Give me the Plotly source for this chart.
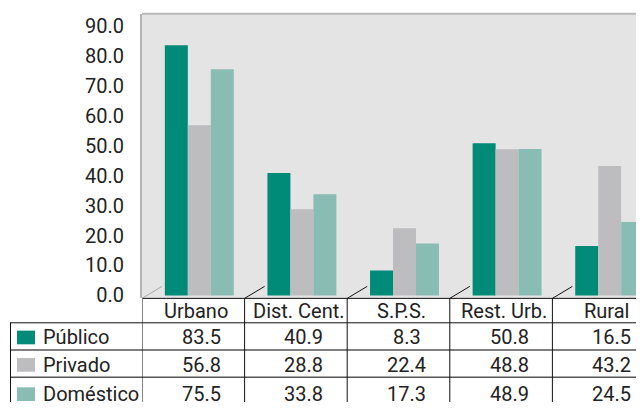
import plotly.graph_objects as go

categories = ["Urbano", "Dist. Cent.", "S.P.S.", "Rest. Urb.", "Rural"]
publico = [83.5, 40.9, 8.3, 50.8, 16.5]
privado = [56.8, 28.8, 22.4, 48.8, 43.2]
domestico = [75.5, 33.8, 17.3, 48.9, 24.5]
series_names = ["Público", "Privado", "Doméstico"]
y_ticks = [0, 10, 20, 30, 40, 50, 60, 70, 80, 90]

colors = ["#008a78", "#bdbdbf", "#89bcb2"]
series = [publico, privado, domestico]

# the page has an 8px body margin, so the figure is drawn 8px smaller
OFF = 8
W_PX, H_PX = 644 - OFF, 411 - OFF
CAT_W = 102.6          # pixels per category
LEFT = 142             # left edge of the plot area (window pixels)
S = 3.065              # pixels per unit on the value axis


def py(p):
    # window pixel row -> paper y
    return 1 - (p - OFF) / H_PX


def px_(p):
    return (p - OFF) / W_PX


span = (644 - LEFT) / CAT_W
font = dict(family="Roboto", size=20, color="#222")

fig = go.Figure()
for name, vals, col in zip(series_names, series, colors):
    fig.add_trace(go.Bar(x=categories, y=vals, name=name, marker_color=col,
                         marker_line_width=0, xaxis="x", yaxis="y"))

fig.update_layout(
    width=W_PX, height=H_PX,
    margin=dict(l=0, r=0, t=0, b=0),
    paper_bgcolor="white",
    plot_bgcolor="#e4e4e4",
    showlegend=False,
    barmode="group", bargap=0.328, bargroupgap=0,
    font=font,
    # bars sit a little behind the front edge
    xaxis=dict(domain=[px_(LEFT), 1], range=[-0.5 - 6 / CAT_W, -0.5 - 6 / CAT_W + span],
               showticklabels=False, showgrid=False, zeroline=False, showline=False,
               ticks=""),
    xaxis2=dict(overlaying="x", range=[-0.5, -0.5 + span], showticklabels=False,
                showgrid=False, zeroline=False, showline=False, ticks=""),
    yaxis=dict(domain=[py(305), py(14)], range=[-3 / S, (302 - 14) / S],
               tickvals=y_ticks, tickformat=".1f", ticks="", showgrid=False,
               zeroline=False, showline=True, linecolor="#b4b4b4", linewidth=2,
               ticklabelstandoff=12, tickfont=font),
    yaxis2=dict(overlaying="y", range=[-12 / S, (293 - 14) / S], tickvals=y_ticks[1:],
                showticklabels=False, ticks="", showgrid=True, gridcolor="#f6f6f6",
                gridwidth=1.5, zeroline=False, showline=False),
    yaxis3=dict(overlaying="y", range=[0, (305 - 14) / S], tickvals=y_ticks,
                showticklabels=False, ticks="outside", ticklen=6, tickwidth=1.5,
                tickcolor="#333", showgrid=False, zeroline=False, showline=False),
)

shapes = []
# top border of the wall
shapes.append(dict(type="line", xref="paper", yref="paper", x0=px_(LEFT), x1=1,
                   y0=py(14), y1=py(14), line=dict(color="#b8b8b8", width=2)))
# floor front edge / table top
shapes.append(dict(type="line", xref="paper", yref="paper", x0=px_(LEFT), x1=1,
                   y0=py(305), y1=py(305), line=dict(color="#111", width=1)))
shapes.append(dict(type="line", xref="paper", yref="paper", x0=px_(10), x1=1,
                   y0=py(330), y1=py(330), line=dict(color="#111", width=1)))
for yy in (357.7, 385.7):
    shapes.append(dict(type="line", xref="paper", yref="paper", x0=px_(10), x1=1,
                       y0=py(yy), y1=py(yy), line=dict(color="#555", width=1.5)))
shapes.append(dict(type="line", xref="paper", yref="paper", x0=px_(10.5), x1=px_(10.5),
                   y0=py(330), y1=0, line=dict(color="#111", width=1)))
for k in range(len(categories)):
    b = k - 0.5
    shapes.append(dict(type="line", xref="x2", yref="paper", x0=b, x1=b,
                       y0=py(305), y1=0, line=dict(color="#111", width=1)))
    shapes.append(dict(type="line", xref="x2", xsizemode="pixel", xanchor=b,
                       x0=0, x1=20, yref="paper", ysizemode="pixel", yanchor=py(305),
                       y0=0, y1=12,
                       line=dict(color="#aaa" if k == 0 else "#111", width=1)))

annotations = []
for i, c in enumerate(categories):
    annotations.append(dict(x=i, xref="x2", y=py(318), yref="paper", text=c,
                            showarrow=False, xanchor="center", yanchor="middle",
                            xshift=3, font=font))
row_y = [345, 373, 403]
for r, (name, vals, col) in enumerate(zip(series_names, series, colors)):
    yc = row_y[r]
    shapes.append(dict(type="rect", xref="paper", yref="paper", x0=px_(17), x1=px_(35),
                       y0=py(yc + 7), y1=py(yc - 7), fillcolor=col, line_width=0))
    annotations.append(dict(x=px_(41), xref="paper", y=py(yc), yref="paper", text=name,
                            showarrow=False, xanchor="left", yanchor="middle", font=font))
    for i, v in enumerate(vals):
        annotations.append(dict(x=i, xref="x2", y=py(yc), yref="paper", text=f"{v:.1f}",
                                showarrow=False, xanchor="center", yanchor="middle",
                                xshift=8, font=font))

fig.update_layout(shapes=shapes, annotations=annotations)
fig.write_html("out.html", config={"displayModeBar": False})
